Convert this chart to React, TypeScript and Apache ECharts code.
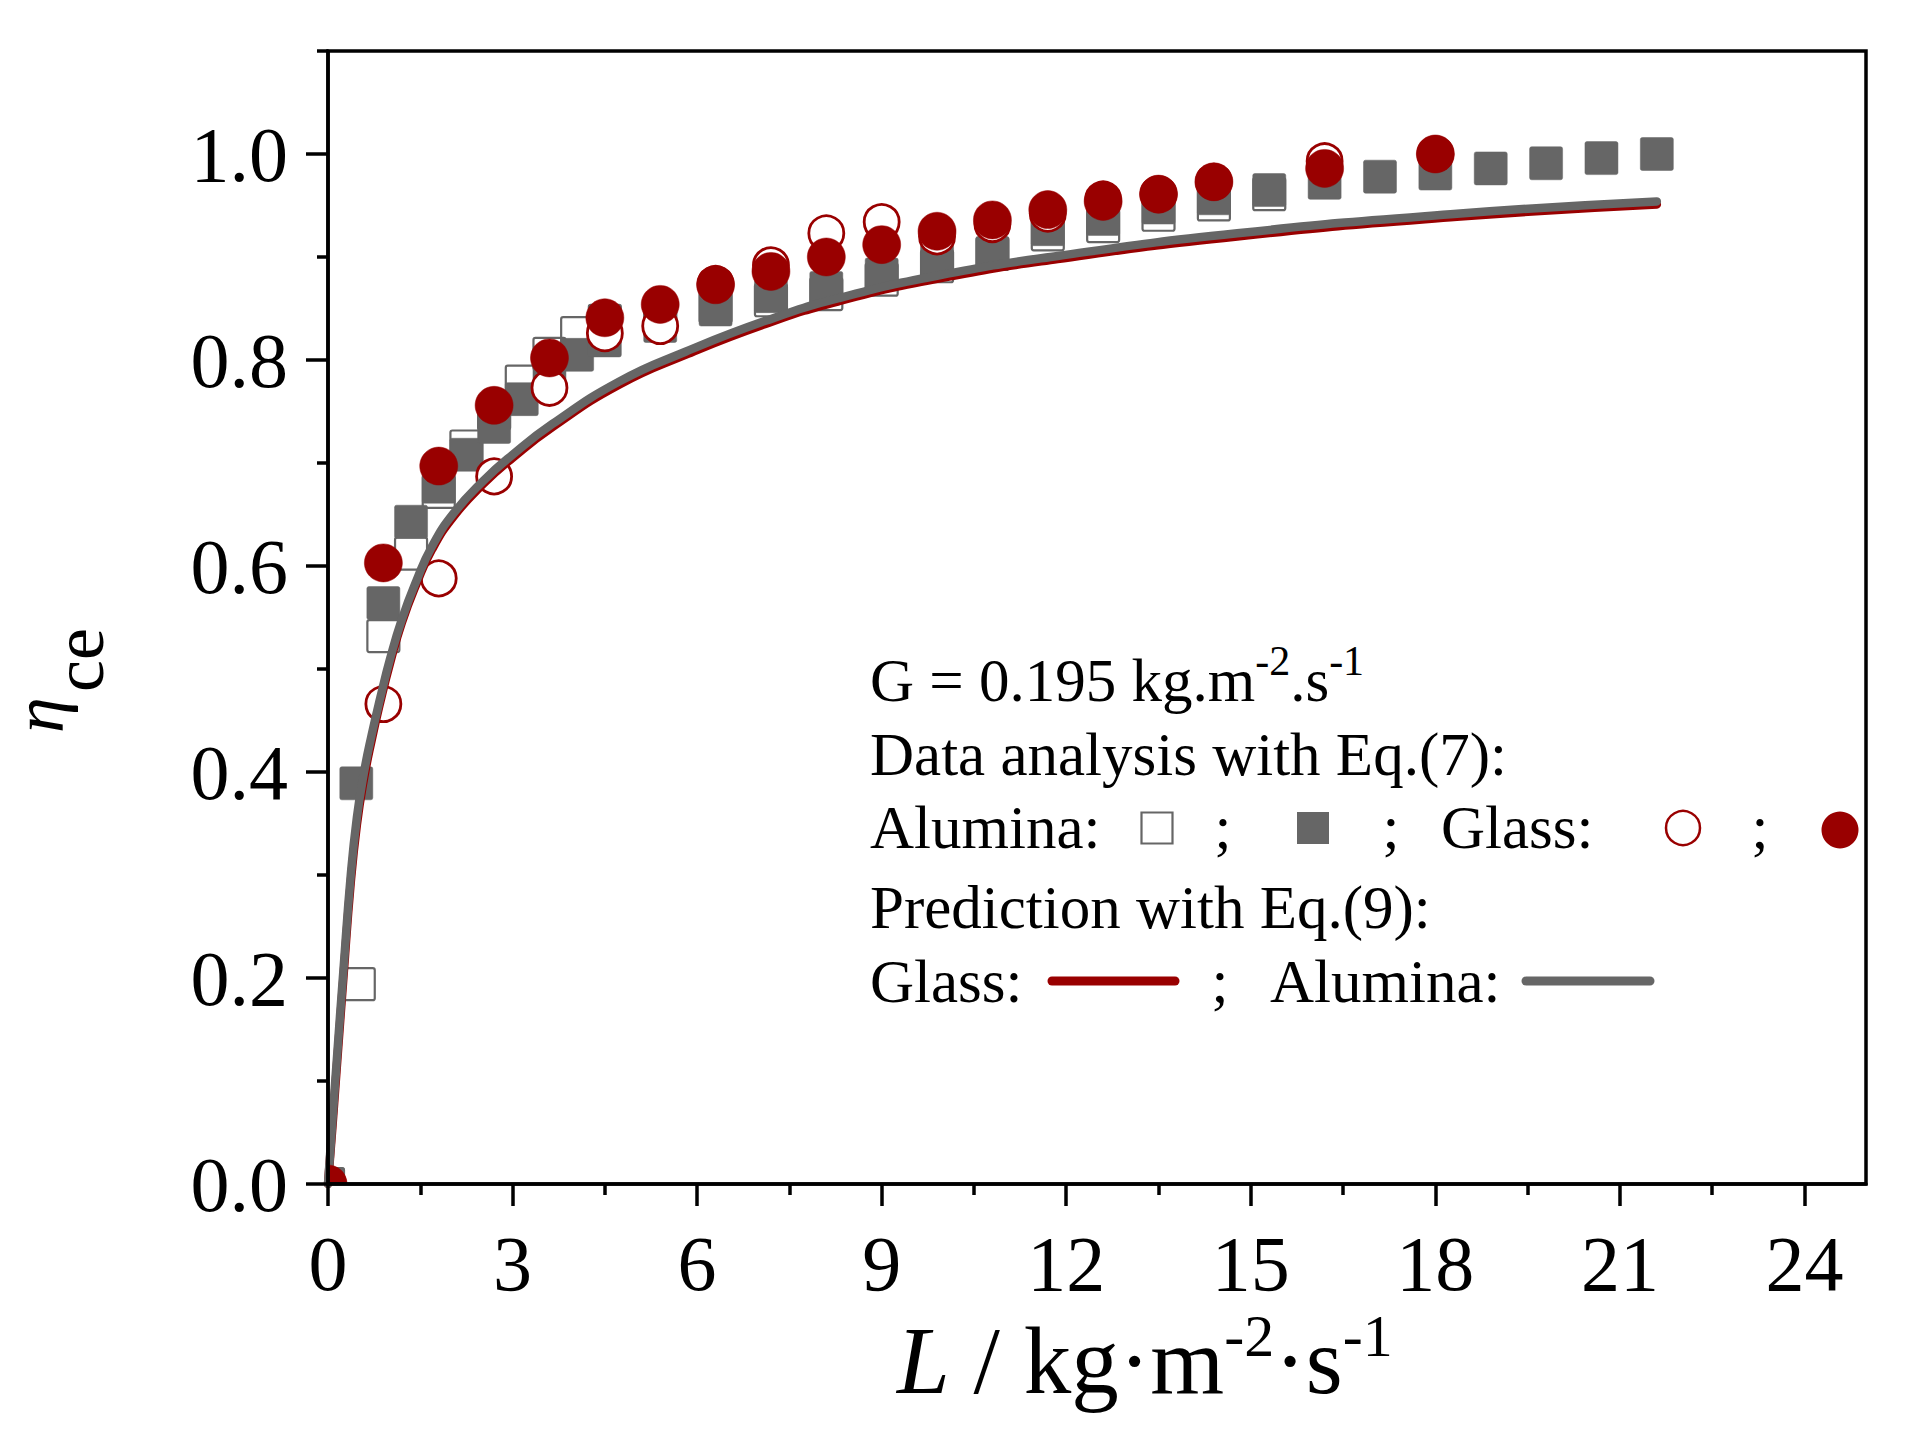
import { useEffect, useRef } from 'react';
import * as echarts from 'echarts';

const FONT = '"Liberation Serif", "Times New Roman", serif';
const RED = '#990000';
const GRAY = '#666666';

// axis ticks
const xMajorTicks = [0, 3, 6, 9, 12, 15, 18, 21, 24];
const xMinorTicks = [1.5, 4.5, 7.5, 10.5, 13.5, 16.5, 19.5, 22.5];
const yMajorTicks = [0, 0.2, 0.4, 0.6, 0.8, 1.0];
const yMinorTicks = [0.1, 0.3, 0.5, 0.7, 0.9, 1.1];

// Alumina, open squares
const aluminaOpenX = [0, 0.5, 0.9, 1.35, 1.8, 2.25, 2.7, 3.15, 3.6, 4.05, 4.5, 5.4, 6.3, 7.2, 8.1, 9.0, 9.9, 10.8, 11.7, 12.6, 13.5, 14.4, 15.3];
const aluminaOpenY = [0, 0.194, 0.532, 0.612, 0.672, 0.716, 0.748, 0.779, 0.806, 0.826, 0.838, 0.84, 0.852, 0.858, 0.864, 0.878, 0.891, 0.903, 0.922, 0.93, 0.941, 0.951, 0.961];

// Alumina, filled squares
const aluminaFullX = [0, 0.46, 0.9, 1.35, 1.8, 2.25, 2.7, 3.15, 3.6, 4.05, 4.5, 5.4, 6.3, 7.2, 8.1, 9.0, 9.9, 10.8, 11.7, 12.6, 13.5, 14.4, 15.3, 16.2, 17.1, 18.0, 18.9, 19.8, 20.7, 21.6];
const aluminaFullY = [0, 0.389, 0.564, 0.643, 0.677, 0.708, 0.735, 0.762, 0.785, 0.805, 0.819, 0.833, 0.849, 0.862, 0.87, 0.883, 0.896, 0.904, 0.927, 0.937, 0.948, 0.957, 0.965, 0.972, 0.978, 0.981, 0.986, 0.991, 0.996, 1.0];

// Glass, open circles
const glassOpenX = [0, 0.9, 1.8, 2.7, 3.6, 4.5, 5.4, 6.3, 7.2, 8.1, 9.0, 9.9, 10.8, 11.7, 12.6, 13.5, 14.4, 16.2, 18.0];
const glassOpenY = [0, 0.466, 0.588, 0.687, 0.773, 0.826, 0.833, 0.874, 0.892, 0.923, 0.934, 0.92, 0.932, 0.942, 0.956, 0.961, 0.973, 0.993, 1.0];

// Glass, filled circles
const glassFullX = [0, 0.9, 1.8, 2.7, 3.6, 4.5, 5.4, 6.3, 7.2, 8.1, 9.0, 9.9, 10.8, 11.7, 12.6, 13.5, 14.4, 16.2, 18.0];
const glassFullY = [0, 0.603, 0.697, 0.756, 0.802, 0.841, 0.854, 0.873, 0.886, 0.9, 0.912, 0.925, 0.936, 0.946, 0.954, 0.961, 0.973, 0.986, 1.0];

// Prediction with Eq.(9)
const fitX = [0, 0.07, 0.14, 0.25, 0.37, 0.47, 0.58, 0.71, 0.85, 1.01, 1.2, 1.44, 1.69, 2.04, 2.53, 3.0, 3.65, 4.73, 5.81, 7.11, 8.3, 9.92, 11.86, 14.78, 18.35, 21.6];
const aluminaFitY = [0, 0.06, 0.118, 0.207, 0.3, 0.356, 0.398, 0.436, 0.472, 0.51, 0.548, 0.586, 0.619, 0.651, 0.683, 0.708, 0.738, 0.779, 0.808, 0.838, 0.86, 0.882, 0.901, 0.923, 0.942, 0.954];
const glassFitY = [0, 0.054, 0.111, 0.2, 0.293, 0.349, 0.392, 0.431, 0.468, 0.506, 0.545, 0.583, 0.616, 0.648, 0.68, 0.705, 0.735, 0.776, 0.805, 0.835, 0.857, 0.879, 0.898, 0.92, 0.939, 0.951];

const zip = (xs: number[], ys: number[]) => xs.map((x, i) => [x, ys[i]]);

function squareItem(size: number, fill: string, stroke: string, lw: number) {
  return (_params: any, api: any) => {
    const p = api.coord([api.value(0), api.value(1)]);
    return {
      type: 'rect',
      shape: { x: p[0] - size / 2, y: p[1] - size / 2, width: size, height: size, r: 2 },
      style: { fill, stroke, lineWidth: lw },
    };
  };
}

function circleItem(r: number, fill: string, stroke: string, lw: number) {
  return (_params: any, api: any) => {
    const p = api.coord([api.value(0), api.value(1)]);
    return {
      type: 'circle',
      shape: { cx: p[0], cy: p[1], r },
      style: { fill, stroke, lineWidth: lw },
    };
  };
}

const txt = (text: string, x: number, y: number, align = 'left', size = 61) => ({
  type: 'text',
  x,
  y,
  z: 20,
  style: {
    text,
    fill: '#000',
    fontSize: size,
    fontFamily: FONT,
    align,
    verticalAlign: 'middle',
  },
});

export default function App() {
  const ref = useRef<HTMLDivElement>(null);

  useEffect(() => {
    if (!ref.current) return;
    const chart = echarts.init(ref.current, undefined, { renderer: 'svg' });

    const tickLine = { color: '#000', width: 3.5 };
    const labelStyle = { color: '#000', fontSize: 78, fontFamily: FONT };
    const fitLine = (color: string) => ({ color, width: 8.5, cap: 'round', join: 'round' });

    chart.setOption({
      animation: false,
      backgroundColor: '#fff',
      grid: {
        left: 328,
        top: 51,
        right: 48,
        bottom: 260,
        show: true,
        borderColor: '#000',
        borderWidth: 3.5,
        z: 10,
        outerBoundsMode: 'none',
      },
      xAxis: [
        {
          type: 'value',
          min: 0,
          max: 25,
          position: 'bottom',
          z: 10,
          axisLine: { show: true, lineStyle: tickLine },
          axisTick: { show: true, customValues: xMajorTicks, length: 22, lineStyle: tickLine },
          axisLabel: { customValues: xMajorTicks, margin: 40, ...labelStyle },
          splitLine: { show: false },
        },
        {
          type: 'value',
          min: 0,
          max: 25,
          position: 'bottom',
          z: 10,
          axisLine: { show: false },
          axisTick: { show: true, customValues: xMinorTicks, length: 11, lineStyle: tickLine },
          axisLabel: { show: false },
          splitLine: { show: false },
        },
      ],
      yAxis: [
        {
          type: 'value',
          min: 0,
          max: 1.1,
          position: 'left',
          z: 10,
          axisLine: { show: true, lineStyle: tickLine },
          axisTick: { show: true, customValues: yMajorTicks, length: 22, lineStyle: tickLine },
          axisLabel: {
            customValues: yMajorTicks,
            margin: 40,
            formatter: (v: number) => v.toFixed(1),
            ...labelStyle,
          },
          splitLine: { show: false },
        },
        {
          type: 'value',
          min: 0,
          max: 1.1,
          position: 'left',
          offset: 0,
          z: 10,
          axisLine: { show: false },
          axisTick: { show: true, customValues: yMinorTicks, length: 11, lineStyle: tickLine },
          axisLabel: { show: false },
          splitLine: { show: false },
        },
      ],
      series: [
        {
          name: 'Alumina open',
          type: 'custom',
          z: 2,
          clip: true,
          data: zip(aluminaOpenX, aluminaOpenY),
          renderItem: squareItem(32, 'none', GRAY, 2.2),
        },
        {
          name: 'Alumina filled',
          type: 'custom',
          z: 3,
          clip: true,
          data: zip(aluminaFullX, aluminaFullY),
          renderItem: squareItem(33, GRAY, GRAY, 0.5),
        },
        {
          name: 'Glass open',
          type: 'custom',
          z: 4,
          clip: true,
          data: zip(glassOpenX, glassOpenY),
          renderItem: circleItem(17.5, '#fff', RED, 2.8),
        },
        {
          name: 'Glass prediction',
          type: 'line',
          z: 5,
          data: zip(fitX, glassFitY),
          showSymbol: false,
          symbol: 'none',
          smooth: 0.5,
          lineStyle: fitLine(RED),
        },
        {
          name: 'Alumina prediction',
          type: 'line',
          z: 6,
          data: zip(fitX, aluminaFitY),
          showSymbol: false,
          symbol: 'none',
          smooth: 0.5,
          lineStyle: fitLine(GRAY),
        },
        {
          name: 'Glass filled',
          type: 'custom',
          z: 7,
          clip: true,
          data: zip(glassFullX, glassFullY),
          renderItem: circleItem(19, RED, RED, 0.5),
        },
      ],
      graphic: [
        // y axis name: eta with subscript "ce", reading bottom to top
        {
          type: 'text',
          x: 39,
          y: 733,
          rotation: Math.PI / 2,
          z: 20,
          style: {
            text: 'η',
            fill: '#000',
            fontSize: 72,
            fontStyle: 'italic',
            fontFamily: FONT,
            align: 'left',
            verticalAlign: 'middle',
          },
        },
        {
          type: 'text',
          x: 79,
          y: 692,
          rotation: Math.PI / 2,
          z: 20,
          style: {
            text: 'ce',
            fill: '#000',
            fontSize: 72,
            fontFamily: FONT,
            align: 'left',
            verticalAlign: 'middle',
          },
        },
        // x axis name
        {
          type: 'text',
          x: 897,
          y: 1361,
          z: 20,
          style: {
            text: '{it|L}{n| / kg·m}{sup|-2}{n|·s}{sup|-1}',
            fill: '#000',
            align: 'left',
            verticalAlign: 'middle',
            rich: {
              it: { fontSize: 95, fontStyle: 'italic', fontFamily: FONT, fill: '#000' },
              n: { fontSize: 95, fontFamily: FONT, fill: '#000' },
              sup: { fontSize: 60, fontFamily: FONT, fill: '#000', padding: [0, 0, 50, 0] },
            },
          },
        },
        // legend block
        {
          type: 'text',
          x: 870,
          y: 680,
          z: 20,
          style: {
            text: '{n|G = 0.195 kg.m}{sup|-2}{n|.s}{sup|-1}',
            fill: '#000',
            align: 'left',
            verticalAlign: 'middle',
            rich: {
              n: { fontSize: 61, fontFamily: FONT, fill: '#000' },
              sup: { fontSize: 42, fontFamily: FONT, fill: '#000', padding: [0, 0, 39, 0] },
            },
          },
        },
        txt('Data analysis with Eq.(7):', 870, 754),
        txt('Alumina:', 870, 827),
        {
          type: 'rect',
          z: 20,
          shape: { x: 1157 - 15.5, y: 828 - 15.5, width: 31, height: 31 },
          style: { fill: 'none', stroke: GRAY, lineWidth: 2.2 },
        },
        txt(';', 1223, 827, 'center'),
        {
          type: 'rect',
          z: 20,
          shape: { x: 1313 - 16, y: 828 - 16, width: 32, height: 32 },
          style: { fill: GRAY },
        },
        txt(';', 1391, 827, 'center'),
        txt('Glass:', 1441, 827),
        {
          type: 'circle',
          z: 20,
          shape: { cx: 1683, cy: 828, r: 17 },
          style: { fill: '#fff', stroke: RED, lineWidth: 2.5 },
        },
        txt(';', 1760, 827, 'center'),
        {
          type: 'circle',
          z: 20,
          shape: { cx: 1840, cy: 830, r: 18.5 },
          style: { fill: RED },
        },
        txt('Prediction with Eq.(9):', 870, 907),
        txt('Glass:', 870, 981),
        {
          type: 'line',
          z: 20,
          shape: { x1: 1052, y1: 981, x2: 1175, y2: 981 },
          style: { stroke: RED, lineWidth: 9, lineCap: 'round' },
        },
        txt(';', 1220, 981, 'center'),
        txt('Alumina:', 1270, 981),
        {
          type: 'line',
          z: 20,
          shape: { x1: 1526, y1: 981, x2: 1650, y2: 981 },
          style: { stroke: GRAY, lineWidth: 9, lineCap: 'round' },
        },
      ],
    });

    return () => {
      chart.dispose();
    };
  }, []);

  return (
    <div
      ref={ref}
      style={{ position: 'fixed', left: 0, top: 0, width: 1914, height: 1444, background: '#fff' }}
    />
  );
}
